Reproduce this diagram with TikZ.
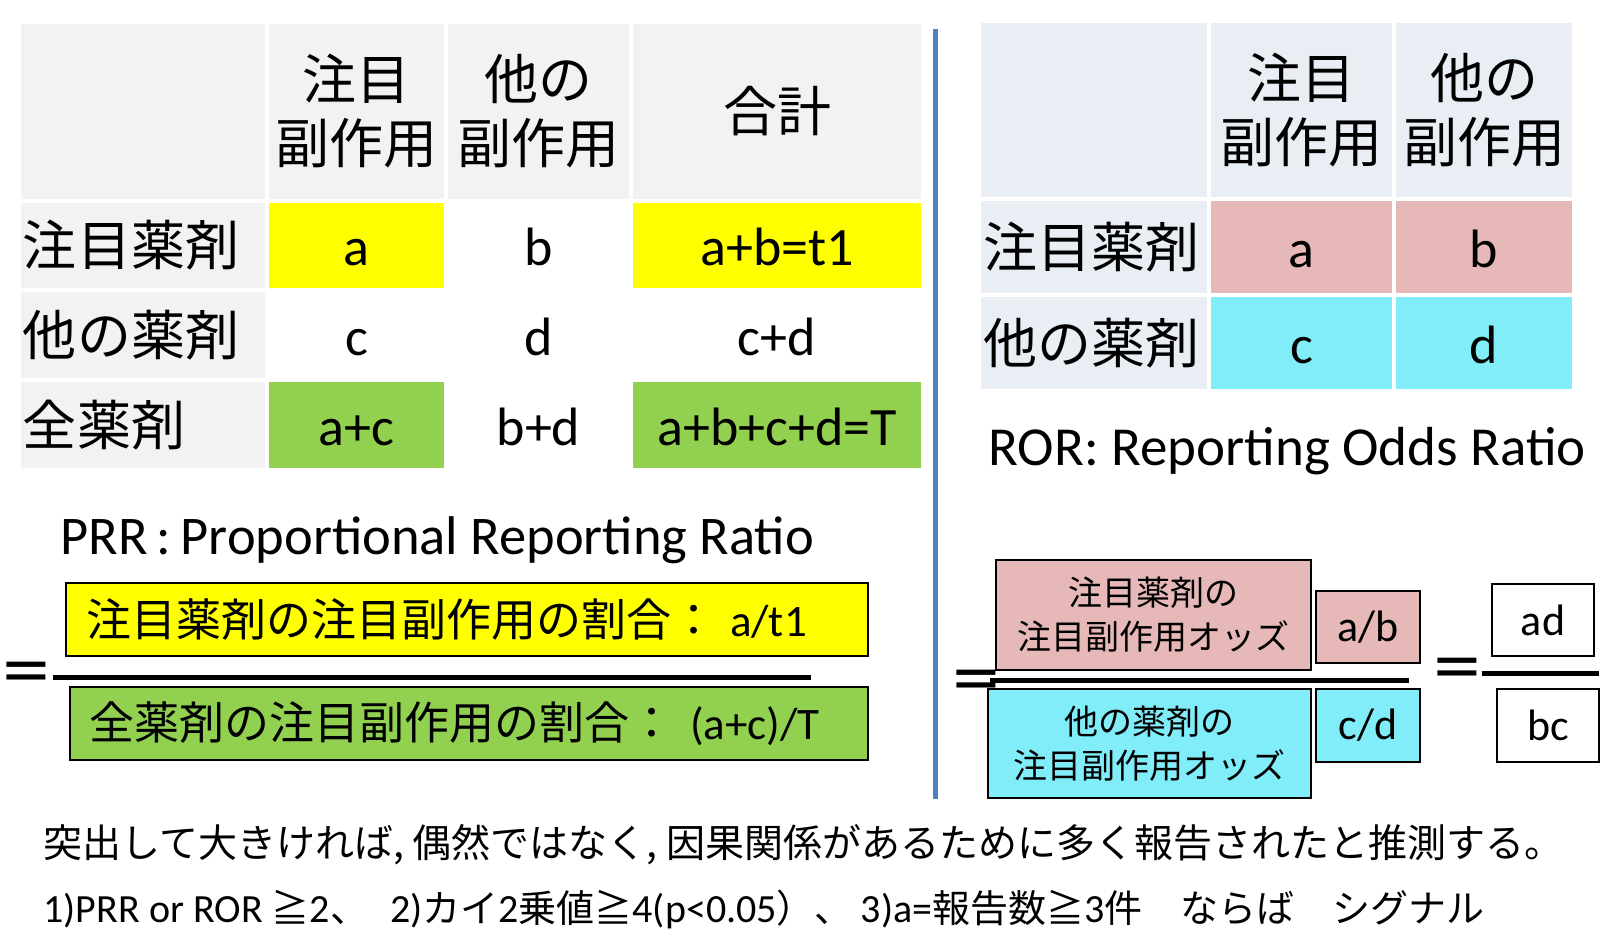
\documentclass[tikz,border=0pt]{standalone}
\usepackage{fontspec}
\setmainfont{Carlito}
\newfontfamily\jp{Noto Sans CJK JP}
\usepackage{tikz}
\usetikzlibrary{positioning}
\definecolor{hdrgray}{HTML}{F2F2F2}
\definecolor{hdrblue}{HTML}{E9EDF4}
\definecolor{markyellow}{HTML}{FFFF00}
\definecolor{markgreen}{HTML}{92D050}
\definecolor{oddspink}{HTML}{E6B9B8}
\definecolor{oddscyan}{HTML}{80EDF8}
\definecolor{divblue}{HTML}{4F81BD}
\newcommand\tablat{\fontsize{54}{64}\selectfont}
\newcommand\tabjp{\jp\fontsize{54}{64}\selectfont}
\newcommand\notejp{\jp\fontsize{38}{44}\selectfont}

\begin{document}
\begin{tikzpicture}[x=1pt,y=-1pt,
  node distance=4pt,
  cell/.style={inner sep=0pt,outer sep=0pt,align=center,font=\tablat,text height=48pt,text depth=8pt},
  jcell/.style={inner sep=0pt,outer sep=0pt,align=center,font=\tabjp},
  rowhead/.style={jcell,align=left,inner xsep=2pt},
  fracbox/.style={draw,line width=1.5pt,inner ysep=0pt,outer sep=0pt,align=left,font=\fontsize{45}{54}\selectfont},
  oddsbox/.style={draw,line width=1.5pt,inner sep=0pt,outer sep=0pt,align=center,font=\jp\fontsize{34}{44}\selectfont},
  valbox/.style={draw,line width=1.5pt,inner sep=0pt,outer sep=0pt,align=center,font=\fontsize{44}{50}\selectfont},
  eqsign/.style={inner sep=0pt,xscale=1.2,font=\fontsize{80}{80}\selectfont},
  fracbar/.style={line width=5pt}
]
\useasboundingbox (0,0) rectangle (1624,948);

% PRR table
\node[jcell,fill=hdrgray,minimum width=244pt,minimum height=175pt,anchor=north west] (corner) at (21,24) {};
\node[jcell,fill=hdrgray,minimum width=175pt,minimum height=175pt,right=of corner] (hfocus) {注目\\副作用};
\node[jcell,fill=hdrgray,minimum width=181pt,minimum height=175pt,right=of hfocus] (hother) {他の\\副作用};
\node[jcell,fill=hdrgray,minimum width=288pt,minimum height=175pt,right=of hother] (htotal) {合計};

\node[rowhead,fill=hdrgray,text width=240pt,minimum height=85pt,below=of corner] (rfocus) {注目薬剤};
\node[cell,fill=markyellow,minimum width=175pt,minimum height=85pt,right=of rfocus] (ca) {a};
\node[cell,minimum width=181pt,minimum height=85pt,right=of ca] (cb) {b};
\node[cell,fill=markyellow,minimum width=288pt,minimum height=85pt,right=of cb] (cab) {a+b=t1};

\node[rowhead,fill=hdrgray,text width=240pt,minimum height=86pt,below=of rfocus] (rother) {他の薬剤};
\node[cell,minimum width=175pt,minimum height=86pt,right=of rother] (cc) {c};
\node[cell,minimum width=181pt,minimum height=86pt,right=of cc] (cd) {d};
\node[cell,minimum width=288pt,minimum height=86pt,right=of cd] (ccd) {c+d};

\node[rowhead,fill=hdrgray,text width=240pt,minimum height=86pt,below=of rother] (rall) {全薬剤};
\node[cell,fill=markgreen,minimum width=175pt,minimum height=86pt,right=of rall] (cac) {a+c};
\node[cell,minimum width=181pt,minimum height=86pt,right=of cac] (cbd) {b+d};
\node[cell,fill=markgreen,minimum width=288pt,minimum height=86pt,right=of cbd] (ctot) {a+b+c+d=T};

% divider
\coordinate (divtop) at (935,29);
\coordinate (divbot) at (935,799);
\draw[divblue,line width=5pt] (divtop) -- (divbot);

% ROR table
\node[jcell,fill=hdrblue,minimum width=226pt,minimum height=174pt,anchor=north west] (rcorner) at (981,23) {};
\node[jcell,fill=hdrblue,minimum width=181pt,minimum height=174pt,right=of rcorner] (rhfocus) {注目\\副作用};
\node[jcell,fill=hdrblue,minimum width=176pt,minimum height=174pt,right=of rhfocus] (rhother) {他の\\副作用};

\node[rowhead,fill=hdrblue,text width=222pt,minimum height=92pt,below=of rcorner] (rrfocus) {注目薬剤};
\node[cell,fill=oddspink,minimum width=181pt,minimum height=92pt,right=of rrfocus] (ra) {a};
\node[cell,fill=oddspink,minimum width=176pt,minimum height=92pt,right=of ra] (rb) {b};

\node[rowhead,fill=hdrblue,text width=222pt,minimum height=92pt,below=of rrfocus] (rrother) {他の薬剤};
\node[cell,fill=oddscyan,minimum width=181pt,minimum height=92pt,right=of rrother] (rc) {c};
\node[cell,fill=oddscyan,minimum width=176pt,minimum height=92pt,right=of rc] (rd) {d};

\node[anchor=base west,font=\fontsize{55}{60}\selectfont] (rortitle) at (985,465) {ROR: Reporting Odds Ratio};

% PRR formula
\node[anchor=base west,font=\fontsize{54.5}{60}\selectfont] (prrtitle) at (57,554) {PRR\,:\,Proportional Reporting Ratio};
\node[fracbox,fill=markyellow,text width=782pt,inner xsep=10pt,minimum height=73pt,anchor=north west] (prrnum) at (66,583)
  {\hspace{10pt}{\jp 注目薬剤の注目副作用の割合：}\hspace{14pt}a/t1};
\node[fracbox,fill=markgreen,text width=778pt,inner xsep=10pt,minimum height=73pt,anchor=north west] (prrden) at (70,687)
  {\hspace{9pt}{\jp 全薬剤の注目副作用の割合：}\hspace{16pt}(a+c)/T};
\coordinate (prrbarl) at (53,677);
\coordinate (prrbarr) at (811,677);
\draw[fracbar] (prrbarl) -- (prrbarr);
\node[eqsign] (prreq) at (26,679) {=};

% ROR formula
\node[oddsbox,fill=oddspink,minimum width=315pt,minimum height=110pt] (rornum) at (1153.5,615) {注目薬剤の\\注目副作用オッズ};
\node[valbox,fill=oddspink,minimum width=104pt,minimum height=72pt] (ab) at (1368,627) {a/b};
\node[oddsbox,fill=oddscyan,minimum width=323pt,minimum height=109pt] (rorden) at (1149.5,743.5) {他の薬剤の\\注目副作用オッズ};
\node[valbox,fill=oddscyan,minimum width=104pt,minimum height=73pt] (cdv) at (1368,725.5) {c/d};
\coordinate (rorbarl) at (990,680);
\coordinate (rorbarr) at (1409,680);
\draw[fracbar] (rorbarl) -- (rorbarr);
\node[eqsign] (roreq) at (976,687) {=};
\node[eqsign] (roreq2) at (1457,675) {=};
\node[valbox,fill=white,minimum width=102pt,minimum height=72pt] (ad) at (1543,620) {ad};
\node[valbox,fill=white,minimum width=102pt,minimum height=73pt] (bc) at (1548,725.5) {bc};
\coordinate (resbarl) at (1482,673);
\coordinate (resbarr) at (1599,673);
\draw[fracbar] (resbarl) -- (resbarr);

% notes
\node[anchor=west,font=\jp\fontsize{39}{44}\selectfont] (note) at (40,845)
  {突出して大きければ, 偶然ではなく, 因果関係があるために多く報告されたと推測する。};
\node[anchor=west,font=\fontsize{40}{44}\selectfont] (crit) at (40,909)
  {1)PRR or ROR {\notejp ≧}2{\notejp 、}\hspace{22pt}2){\notejp カイ}2{\notejp 乗値≧}4(p<0.05{\notejp ）、}\hspace{8pt}3)a={\notejp 報告数≧}3{\notejp 件　ならば　シグナル}};
\end{tikzpicture}
\end{document}
